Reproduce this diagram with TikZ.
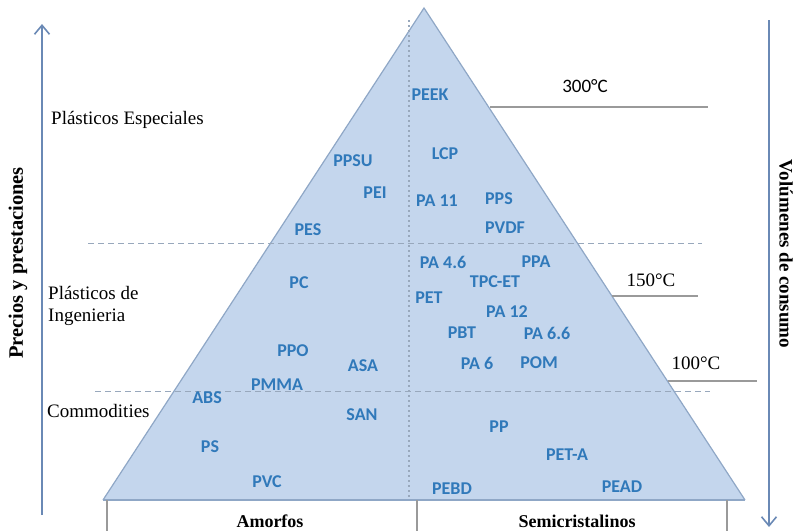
\documentclass[tikz,border=0pt]{standalone}
\usepackage{fontspec}
\setmainfont{Liberation Serif}
\newfontfamily\lblfont{Carlito}
\usetikzlibrary{arrows.meta}
\definecolor{trifill}{HTML}{C4D6ED}
\definecolor{triedge}{HTML}{8FA7C6}
\definecolor{polyblue}{HTML}{3079BA}
\definecolor{axisblue}{HTML}{6A89B5}
\definecolor{guide}{HTML}{98A8BC}
\definecolor{templine}{HTML}{9A9A9A}
\tikzset{
  poly/.style={text=polyblue, font=\lblfont\bfseries\fontsize{18}{20}\selectfont, inner sep=0pt},
  cat/.style={font=\fontsize{19}{22}\selectfont, inner sep=0pt, anchor=west, align=left},
  temp/.style={font=\fontsize{19}{22}\selectfont, inner sep=0pt},
  tempsans/.style={font=\lblfont\fontsize{19}{22}\selectfont, inner sep=0pt},
  axlabel/.style={font=\bfseries\fontsize{19}{22}\selectfont, inner sep=0pt},
  colhead/.style={font=\bfseries\fontsize{18}{21}\selectfont, inner sep=0pt},
  guideline/.style={guide, line width=1pt, dash pattern=on 6pt off 4pt},
  tline/.style={templine, line width=1.6pt},
  axisarrow/.style={axisblue, line width=2pt, -{Straight Barb[length=9pt,width=15pt,line width=1.6pt]}},
}
\begin{document}
\begin{tikzpicture}[x=1pt,y=-1pt]
\useasboundingbox (0,0) rectangle (795,531);
% triangle
\coordinate (apex) at (424,8);
\coordinate (bl) at (103,500);
\coordinate (br) at (745,500);
\fill[trifill] (apex) -- (br) -- (bl) -- cycle;
\draw[triedge, line width=1.2pt] (bl) -- (apex) -- (br);
\draw[triedge, line width=1.2pt] (bl) -- (br);
% vertical dotted divider
\coordinate (dtop) at (409,20);
\coordinate (dbot) at (409,500);
\draw[guide, line width=1.2pt, dash pattern=on 2pt off 3pt] (dtop) -- (dbot);
% horizontal dashed separators
\coordinate (h1a) at (88,243);
\coordinate (h1b) at (702,243);
\coordinate (h2a) at (95,391);
\coordinate (h2b) at (710,391);
\draw[guideline] (h1a) -- (h1b);
\draw[guideline] (h2a) -- (h2b);
% table under the triangle
\coordinate (t1a) at (107,500); \coordinate (t1b) at (107,531);
\coordinate (t2a) at (417,500); \coordinate (t2b) at (417,531);
\coordinate (t3a) at (727,500); \coordinate (t3b) at (727,531);
\draw[templine, line width=1.2pt] (t1a) -- (t1b) (t2a) -- (t2b) (t3a) -- (t3b);
\node[colhead] (amorfos) at (270,521) {Amorfos};
\node[colhead] (semi) at (577,521) {Semicristalinos};
% temperature lines
\coordinate (l300a) at (490,107); \coordinate (l300b) at (708,107);
\coordinate (l150a) at (612,296); \coordinate (l150b) at (698,296);
\coordinate (l100a) at (668,381); \coordinate (l100b) at (757,381);
\draw[tline] (l300a) -- (l300b);
\draw[tline] (l150a) -- (l150b);
\draw[tline] (l100a) -- (l100b);
\node[tempsans] (t300) at (585,86) {300°C};
\node[temp] (t150) at (651,280) {150°C};
\node[temp] (t100) at (696,363) {100°C};
% axes
\coordinate (la) at (42,515); \coordinate (lb) at (42,24);
\draw[axisarrow] (la) -- (lb);
\coordinate (ra) at (769,20); \coordinate (rb) at (769,527);
\draw[axisarrow] (ra) -- (rb);
\node[axlabel, rotate=90, font=\bfseries\fontsize{20.5}{24}\selectfont] (precios) at (18,263) {Precios y prestaciones};
\node[axlabel, rotate=-90] (volumenes) at (786,254) {Volúmenes de consumo};
% category labels
\node[cat] (esp) at (51,120) {Plásticos Especiales};
\node[cat] (ing) at (48,306) {Plásticos de\\Ingenieria};
\node[cat] (com) at (47,411) {Commodities};
% polymers
\node[poly] (peek) at (430,95) {PEEK};
\node[poly] (lcp) at (445,154) {LCP};
\node[poly] (pa11) at (437,201) {PA 11};
\node[poly] (pps) at (499,199) {PPS};
\node[poly] (pvdf) at (505,228) {PVDF};
\node[poly] (pa46) at (443,262) {PA 4.6};
\node[poly] (ppa) at (536,262) {PPA};
\node[poly] (tpcet) at (495,282) {TPC-ET};
\node[poly] (pet) at (429,298) {PET};
\node[poly] (pa12) at (507,312) {PA 12};
\node[poly] (pbt) at (462,333) {PBT};
\node[poly] (pa66) at (547,333) {PA 6.6};
\node[poly] (pa6) at (477,363) {PA 6};
\node[poly] (pom) at (539,363) {POM};
\node[poly] (pp) at (499,427) {PP};
\node[poly] (peta) at (567,455) {PET-A};
\node[poly] (pebd) at (452,489) {PEBD};
\node[poly] (pead) at (622,487) {PEAD};
\node[poly] (ppsu) at (353,161) {PPSU};
\node[poly] (pei) at (375,193) {PEI};
\node[poly] (pes) at (308,230) {PES};
\node[poly] (pc) at (299,283) {PC};
\node[poly] (ppo) at (293,351) {PPO};
\node[poly] (asa) at (363,366) {ASA};
\node[poly] (pmma) at (277,385) {PMMA};
\node[poly] (abs) at (207,398) {ABS};
\node[poly] (san) at (362,415) {SAN};
\node[poly] (ps) at (210,447) {PS};
\node[poly] (pvc) at (267,482) {PVC};
\end{tikzpicture}
\end{document}
